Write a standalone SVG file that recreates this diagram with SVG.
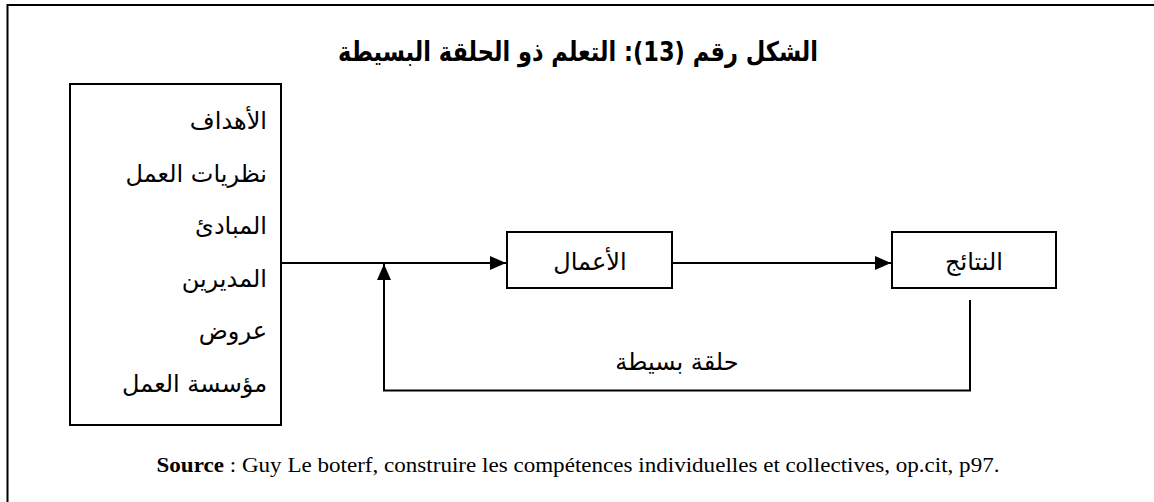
<svg xmlns="http://www.w3.org/2000/svg" width="1154" height="502" viewBox="0 0 1154 502">
  <defs>
    <style>
      .box { fill: #fff; stroke: #000; stroke-width: 2; }
      .wire { fill: none; stroke: #000; stroke-width: 2; }
      .ar { font-family: "DejaVu Sans", "Noto Sans", sans-serif; font-size: 24px; fill: #000; direction: rtl; }
      .title { font-family: "DejaVu Sans Condensed", "DejaVu Sans", sans-serif; font-size: 27px; font-weight: bold; fill: #000; direction: rtl; }
      .src { font-family: "Liberation Serif", "Times New Roman", serif; font-size: 21px; fill: #000; }
    </style>
    <marker id="tip" viewBox="0 0 16 14" refX="16" refY="7" markerWidth="16" markerHeight="14" markerUnits="userSpaceOnUse" orient="auto">
      <path d="M0,0 L16,7 L0,14 Z" fill="#000"/>
    </marker>
  </defs>

  <rect width="1154" height="502" fill="#fff"/>

  <!-- frame: top and left edges only, the rest runs off the page -->
  <path class="wire" d="M7.5,520 V5 H1160"/>

  <text class="title" x="578" y="61" text-anchor="middle" textLength="480" lengthAdjust="spacingAndGlyphs">الشكل رقم (13): التعلم ذو الحلقة البسيطة</text>

  <g id="inputs">
    <rect class="box" x="70" y="84" width="211" height="341"/>
    <g class="ar" text-anchor="start">
      <text x="267" y="129">الأهداف</text>
      <text x="267" y="181.6">نظريات العمل</text>
      <text x="267" y="234.2">المبادئ</text>
      <text x="267" y="286.8">المديرين</text>
      <text x="267" y="339.4">عروض</text>
      <text x="267" y="392">مؤسسة العمل</text>
    </g>
  </g>

  <g id="actions">
    <rect class="box" x="507" y="232" width="165" height="56"/>
    <text class="ar" x="590" y="270" text-anchor="middle">الأعمال</text>
  </g>

  <g id="results">
    <rect class="box" x="892" y="232" width="164" height="56"/>
    <text class="ar" x="974" y="270" text-anchor="middle">النتائج</text>
  </g>

  <g id="connectors">
    <line class="wire" x1="281" y1="263" x2="506" y2="263" marker-end="url(#tip)"/>
    <line class="wire" x1="672" y1="263" x2="891" y2="263" marker-end="url(#tip)"/>
    <polyline class="wire" points="970,300 970,390.5 384,390.5 384,264" marker-end="url(#tip)"/>
    <text class="ar" x="677" y="370" text-anchor="middle">حلقة بسيطة</text>
  </g>

  <text class="src" x="578" y="472" text-anchor="middle" textLength="843" lengthAdjust="spacingAndGlyphs"><tspan font-weight="bold">Source</tspan> : Guy Le boterf, construire les compétences individuelles et collectives, op.cit, p97.</text>
</svg>
